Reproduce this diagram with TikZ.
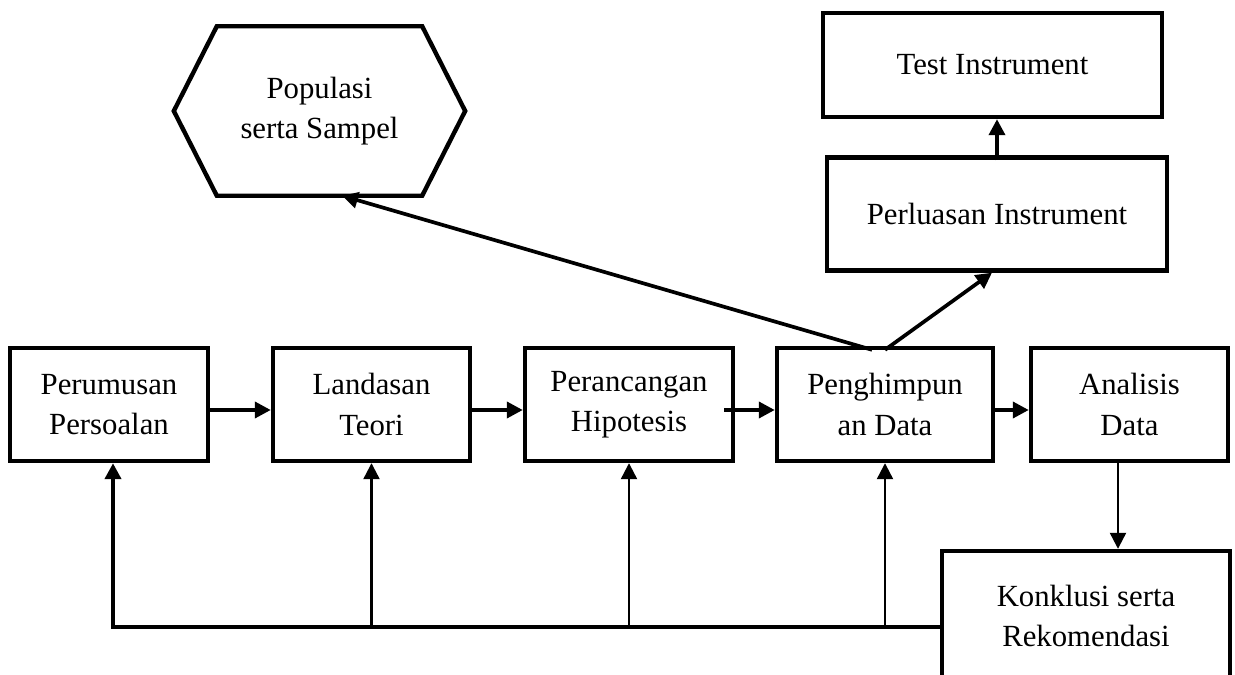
\documentclass[tikz,border=0pt]{standalone}
\usepackage{fontspec}
\setmainfont{Liberation Serif}
\usetikzlibrary{arrows.meta}

\begin{document}
\begin{tikzpicture}[
    x=0.2mm, y=-0.2mm,
    font=\fontsize{17.5}{22.8}\selectfont, line width=2.5pt,
    box/.style={draw,align=center,inner sep=0pt,minimum height=22.6mm},
    arrow/.style={-{Triangle[length=3.2mm,width=3.2mm]},line width=2.1pt},
    branch/.style={arrow,line width=1.3pt},
    label/.style={align=center,inner sep=0pt}
]
\path[use as bounding box] (0,0) rectangle (1235,675);

% main row of steps
\node[box,minimum width=39.6mm] (pr) at (109,404.5) {Perumusan\\Persoalan};
\node[box,minimum width=39.4mm] (lt) at (371.5,404.5) {Landasan\\Teori};
\node[box,minimum width=41.6mm] (ph) at (629,404.5) {Perancangan\\Hipotesis};
\node[box,minimum width=43.2mm] (pd) at (885,404.5) {Penghimpun\\an Data};
\node[box,minimum width=39.4mm] (ad) at (1129.5,404.5) {Analisis\\Data};
\node[box,minimum width=57.6mm,minimum height=26mm] (ks) at (1086,616)
    {Konklusi serta\\ Rekomendasi};

% upper branch
\node[box,minimum width=68mm] (pi) at (997,214) {Perluasan Instrument};
\node[box,minimum width=67.8mm,minimum height=20.8mm] (ti) at (992.5,65) {Test Instrument};
\node[label,minimum width=57.4mm,minimum height=33mm] (pop) at (319.5,111)
    {Populasi\\serta Sampel};
\draw (pop.west) -- ([xshift=8.6mm]pop.north west) -- ([xshift=-8.6mm]pop.north east)
    -- (pop.east) -- ([xshift=-8.6mm]pop.south east) -- ([xshift=8.6mm]pop.south west) -- cycle;

\draw[arrow] ([yshift=-1.1mm]pr.east) -- ([yshift=-1.1mm]lt.west);
\draw[arrow] ([yshift=-1.1mm]lt.east) -- ([yshift=-1.1mm]ph.west);
\draw[arrow] ([xshift=-2.2mm,yshift=-1.1mm]ph.east) -- ([yshift=-1.1mm]pd.west);
\draw[arrow] ([yshift=-1.1mm]pd.east) -- ([yshift=-1.1mm]ad.west);
\draw[branch] ([xshift=-2.3mm]ad.south) -- ([xshift=-2.3mm]ad.south |- ks.north);

\draw[arrow] ([xshift=-2.6mm,yshift=-0.8mm]pd.north) -- ([xshift=4.5mm]pop.south);
\draw[arrow] ([yshift=-0.8mm]pd.north) -- ([xshift=-1mm]pi.south);
\draw[arrow] ([yshift=-1mm]pi.north) -- (pi.north |- ti.south);

% feedback loop
\coordinate (fb) at ([yshift=-2.2mm]ks.west);
\draw[arrow,line width=2.4pt] (fb) -| ([xshift=0.8mm]pr.south);
\foreach \n in {lt,ph,pd}
    \draw[branch] (\n.south |- fb) -- (\n.south);
\end{tikzpicture}
\end{document}
